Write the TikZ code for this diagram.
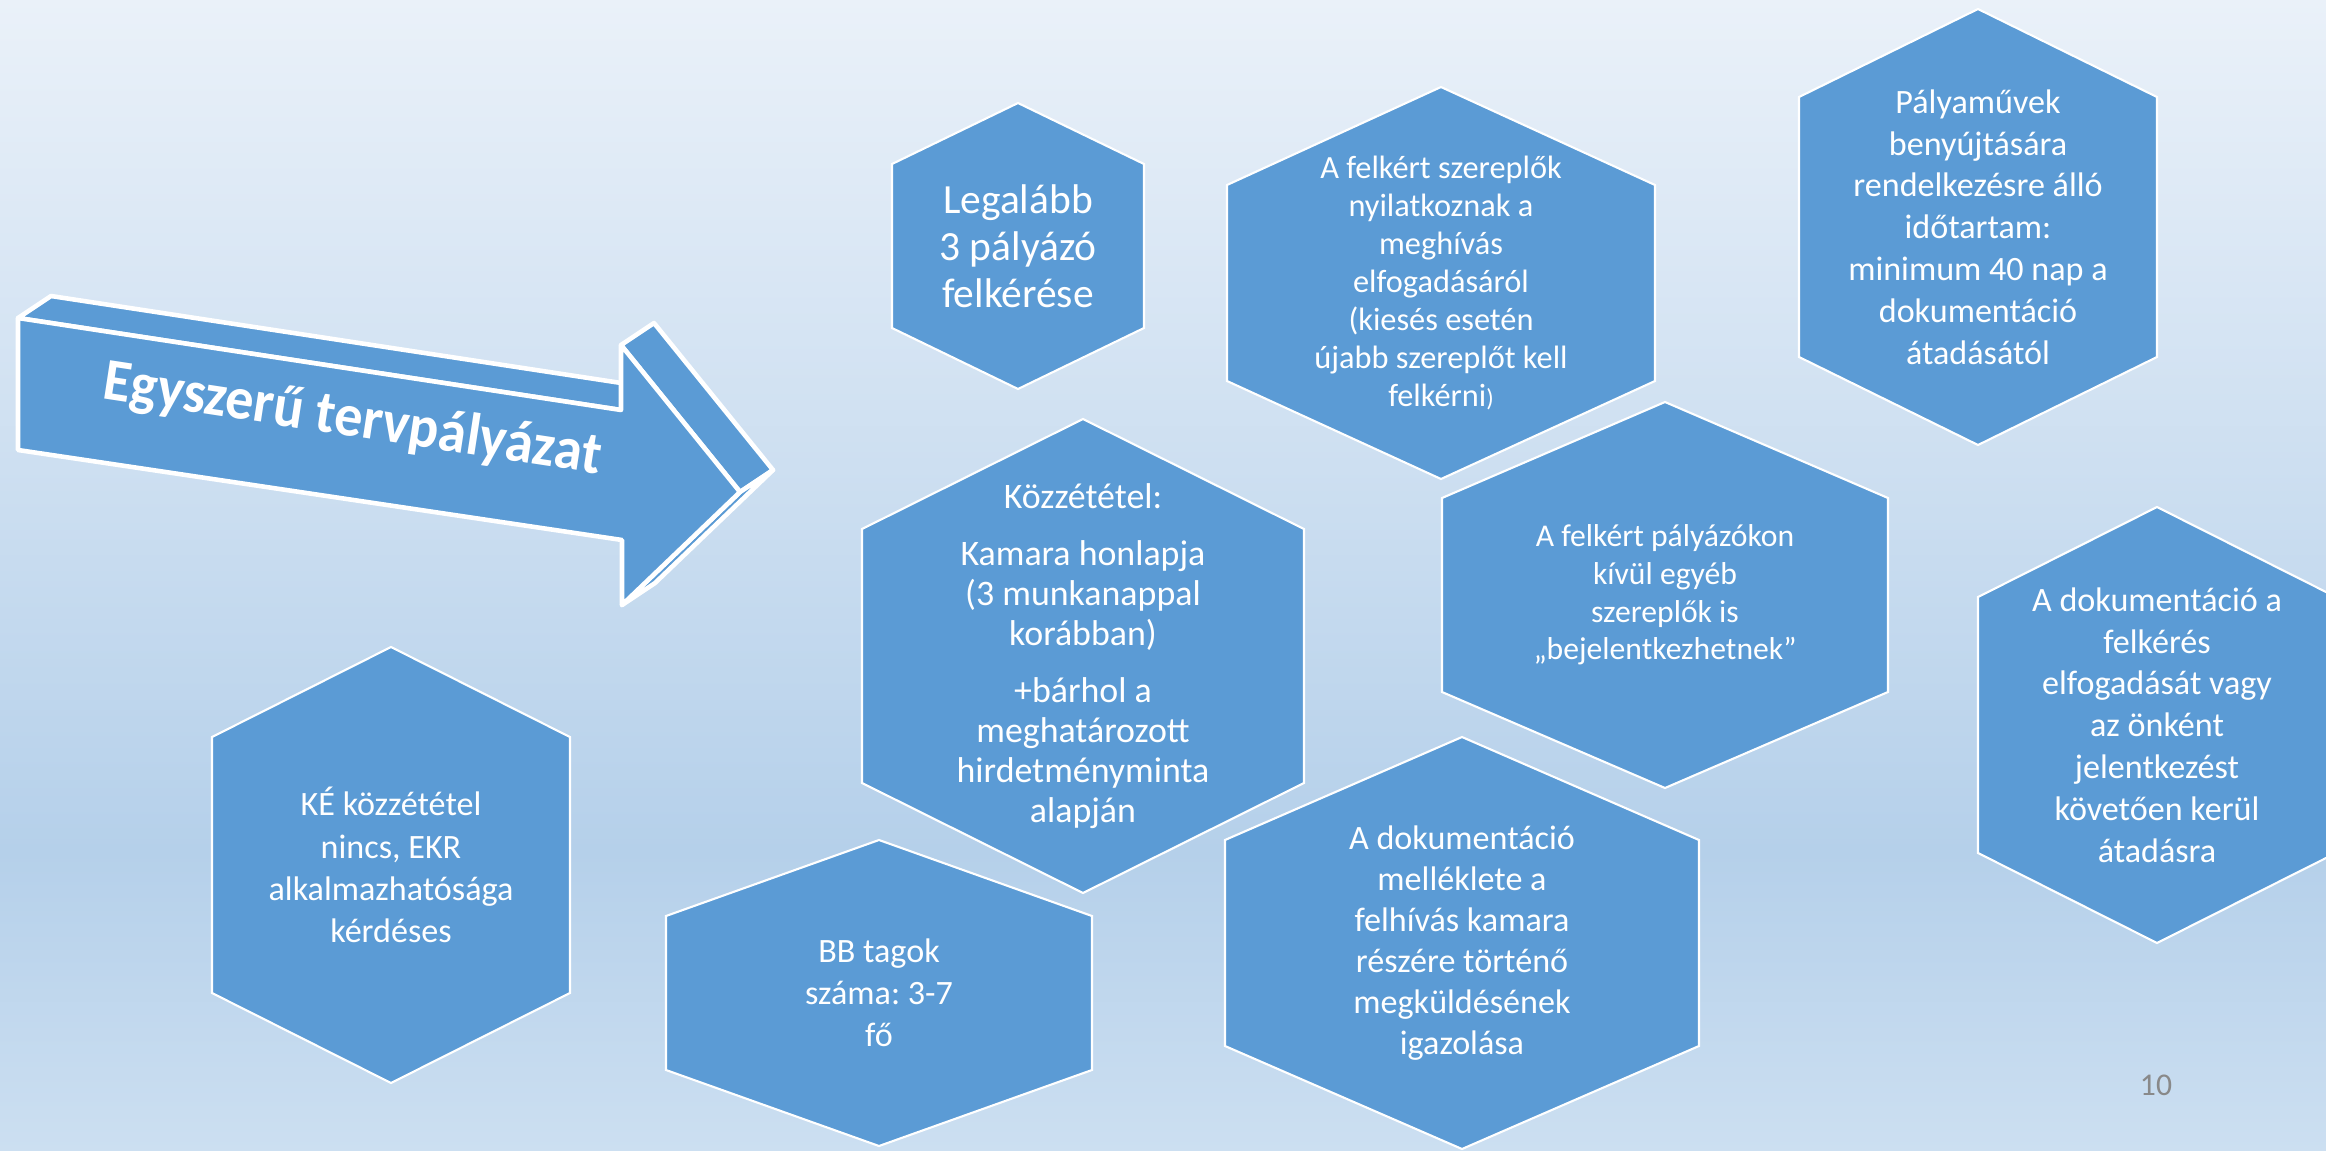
\documentclass[tikz,border=0pt]{standalone}
\usepackage{fontspec}
\setmainfont{Carlito}
\usetikzlibrary{shapes, arrows.meta}
\frenchspacing

\definecolor{hexblue}{RGB}{91,155,213}
\definecolor{bgtop}{RGB}{234,241,249}
\definecolor{bgmid}{RGB}{181,208,234}
\definecolor{bgbot}{RGB}{204,223,241}
\definecolor{pagegray}{RGB}{137,137,137}

\pgfdeclareverticalshading{slidebg}{100bp}{color(0bp)=(bgbot); color(25bp)=(bgbot); color(38bp)=(bgmid); color(75bp)=(bgtop); color(100bp)=(bgtop)}

\tikzset{
  hexline/.style={fill=hexblue, draw=white, line width=0.6pt, line join=miter},
  hextext/.style={text=white, align=center, inner sep=0pt},
  arrowface/.style={fill=hexblue, draw=white, line width=1.3pt, line join=round},
  arrowtext/.style={text=white, font=\bfseries\fontsize{17pt}{19pt}\selectfont, rotate=-8.7, xscale=0.94}
}

\newcommand{\hexcell}[8]{%
  \filldraw[hexline] (#2,#3-#5) -- (#2+#4,#3-#6) -- (#2+#4,#3+#6) -- (#2,#3+#5) -- (#2-#4,#3+#6) -- (#2-#4,#3-#6) -- cycle;
  \node[hextext, font={#7}] (#1) at (#2,#3) {#8};
}

\begin{document}
\begin{tikzpicture}[x=0.01cm, y=-0.01cm]
    \useasboundingbox (0,0) rectangle (2326,1151);
    \shade[shading=slidebg] (0,0) rectangle (2326,1151);

    \coordinate (f1) at (18,318);
    \coordinate (f2) at (621,410);
    \coordinate (f3) at (621,345);
    \coordinate (f4) at (740,492);
    \coordinate (f5) at (622,605);
    \coordinate (f6) at (622,540);
    \coordinate (f7) at (18,450);
    \coordinate (b1) at (51,296);
    \coordinate (b2) at (654,388);
    \coordinate (b3) at (654,323);
    \coordinate (b4) at (773,470);
    \coordinate (b5) at (655,583);

    \filldraw[arrowface] (f1) -- (b1) -- (b2) -- (f2) -- cycle;
    \filldraw[arrowface] (f3) -- (b3) -- (b4) -- (f4) -- cycle;
    \filldraw[arrowface] (f4) -- (b4) -- (b5) -- (f5) -- cycle;
    \filldraw[arrowface] (f1) -- (f2) -- (f3) -- (f4) -- (f5) -- (f6) -- (f7) -- cycle;
    \node[arrowtext, anchor=base] (title) at (350,436) {Egyszerű tervpályázat};

    \hexcell{legalabb}{1018}{246}{126}{143}{82}{\fontsize{11.8pt}{13.4pt}\selectfont}{Legalább\\3 pályázó\\felkérése}
    \hexcell{nyilatkozat}{1441}{283}{214}{196}{98}{\fontsize{9.2pt}{10.8pt}\selectfont}{A felkért szereplők\\nyilatkoznak a\\meghívás\\elfogadásáról\\(kiesés esetén\\újabb szereplőt kell\\felkérni{\fontsize{7pt}{7pt}\selectfont)}}
    \hexcell{hatarido}{1978}{227}{179}{218}{130}{\fontsize{9.7pt}{11.9pt}\selectfont}{Pályaművek\\benyújtására\\rendelkezésre álló\\időtartam:\\minimum 40 nap a\\dokumentáció\\átadásától}
    \hexcell{kozzetetel}{1083}{656}{221}{237}{127}{\fontsize{10.2pt}{11.4pt}\selectfont}{Közzététel:\\[4.8pt]Kamara honlapja\\(3 munkanappal\\korábban)\\[4.8pt]+bárhol a\\meghatározott\\hirdetményminta\\alapján}
    \hexcell{bejelentkezes}{1665}{595}{223}{193}{97}{\fontsize{9pt}{10.7pt}\selectfont}{A felkért pályázókon\\kívül egyéb\\szereplők is\\„bejelentkezhetnek”}
    \hexcell{atadas}{2157}{725}{179}{218}{128}{\fontsize{9.7pt}{11.9pt}\selectfont}{A dokumentáció a\\felkérés\\elfogadását vagy\\az önként\\jelentkezést\\követően kerül\\átadásra}
    \hexcell{ke}{391}{865}{179}{218}{128}{\fontsize{9.7pt}{12pt}\selectfont}{KÉ közzététel\\nincs, EKR\\alkalmazhatósága\\kérdéses}
    \hexcell{bbtagok}{879}{993}{213}{153}{77}{\fontsize{9.7pt}{11.9pt}\selectfont}{BB tagok\\száma: 3-7\\fő}
    \hexcell{melleklet}{1462}{943}{237}{206}{103}{\fontsize{9.7pt}{11.7pt}\selectfont}{A dokumentáció\\melléklete a\\felhívás kamara\\részére történő\\megküldésének\\igazolása}

    \node[text=pagegray, font=\fontsize{9pt}{11pt}\selectfont] (pagenum) at (2156,1085) {10};
\end{tikzpicture}
\end{document}
